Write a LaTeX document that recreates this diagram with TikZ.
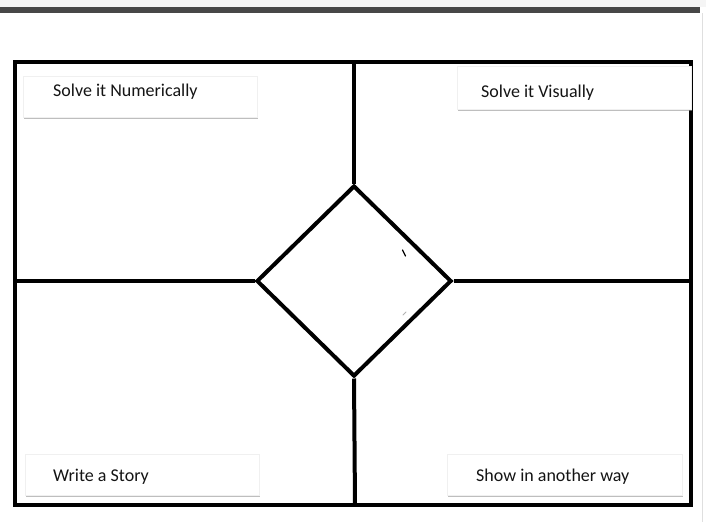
\documentclass[tikz,border=0pt]{standalone}
\usepackage{fontspec}
\setmainfont{Carlito}
\usetikzlibrary{shapes.geometric,shadows}
\tikzset{
  frameline/.style={line width=4pt, black, line join=miter},
  labelbox/.style={draw=gray!12, fill=white, line width=0.4pt, inner sep=0pt,
    minimum width=234pt, minimum height=41pt,
    drop shadow={shadow xshift=0.6pt, shadow yshift=-2.2pt, fill=gray!85, opacity=0.6}},
  labeltext/.style={anchor=west, inner sep=0pt, font=\fontsize{18}{21}\selectfont, text=black!92}
}
\begin{document}
\begin{tikzpicture}[x=1pt,y=-1pt]
\useasboundingbox (0,0) rectangle (706,522);
% top band
\fill[gray!8] (0,0) rectangle (706,7);
\fill[black!72] (0,7) rectangle (700,13);
\draw[gray!25, line width=1pt] (702,13) -- (702,522);
% frame
\coordinate (tl) at (15,62);
\coordinate (br) at (691,505);
\draw[frameline] (tl) rectangle (br);
% diamond
\node[diamond, draw, line width=4pt, inner sep=0pt, minimum width=195pt, minimum height=191pt] (d) at (354,281) {};
\coordinate (top) at (d.north |- tl);
\coordinate (bot) at (355,505);
\coordinate (lft) at (d.west -| tl);
\coordinate (rgt) at (d.east -| br);
\draw[frameline] (top) -- (d.north);
\draw[frameline] (d.south) -- (bot);
\draw[frameline] (lft) -- (d.west);
\draw[frameline] (d.east) -- (rgt);
% small artefact marks inside diamond
\draw[black, line width=1.2pt, line cap=round] (402.5,250) -- (405.5,256);
\draw[gray!60, line width=0.8pt, line cap=round] (403,315) -- (406,312);
% labels
\node[labelbox] (b1) at (140,96.5) {};
\node[labeltext] (t1) at (53,91.5) {Solve it Numerically};
\node[labelbox, minimum height=43pt] (b2) at (574,87.5) {};
\node[labeltext] (t2) at (481,92.5) {Solve it Visually};
\node[labelbox] (b3) at (142,474.5) {};
\node[labeltext] (t3) at (53,476.5) {Write a Story};
\node[labelbox, minimum width=235pt] (b4) at (564.5,474.5) {};
\node[labeltext] (t4) at (476,476.5) {Show in another way};
\end{tikzpicture}
\end{document}
